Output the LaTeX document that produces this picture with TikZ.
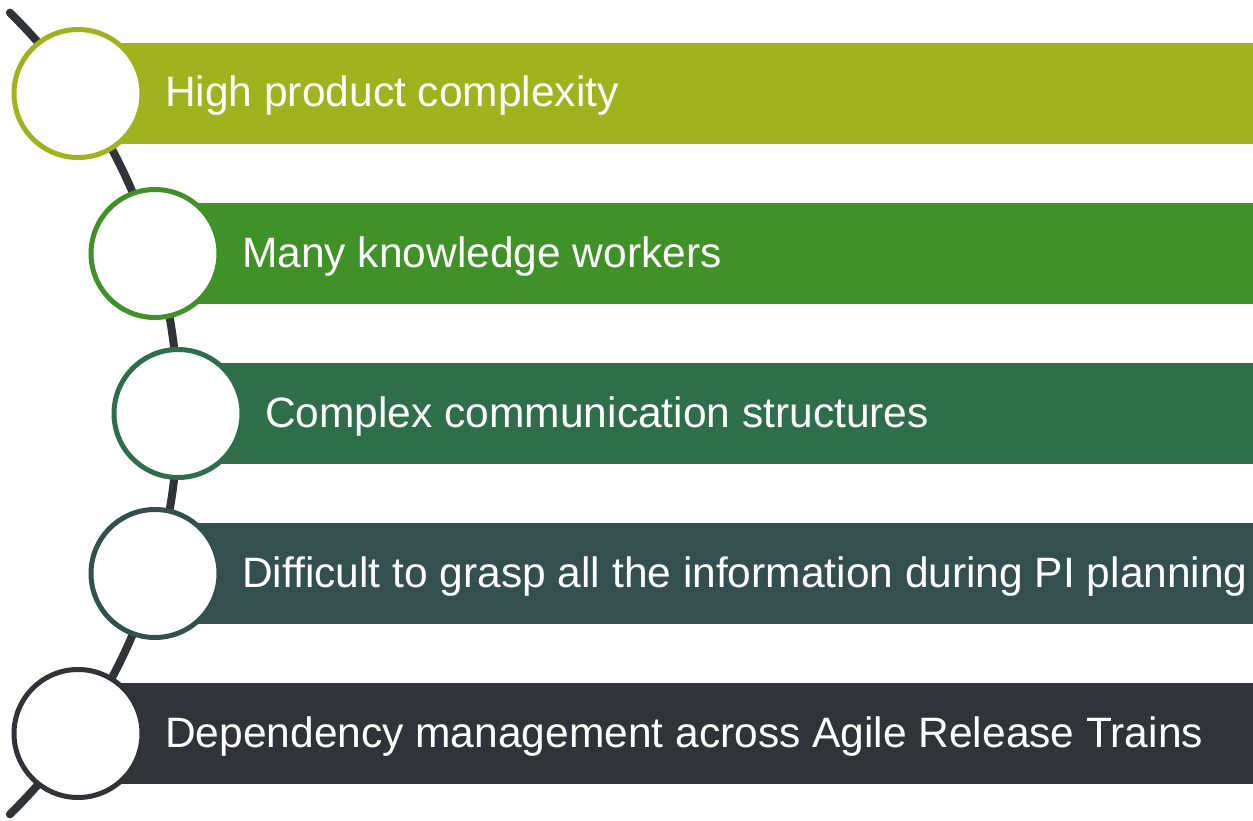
\documentclass[tikz,border=0pt]{standalone}
\usepackage{fontspec}
\setmainfont{Liberation Sans}
\usepackage{tikz}
\usetikzlibrary{calc}

\definecolor{lime}{HTML}{A0B31E}
\definecolor{leaf}{HTML}{3F9128}
\definecolor{forest}{HTML}{2E6E4A}
\definecolor{slate}{HTML}{33504F}
\definecolor{coal}{HTML}{323338}

\begin{document}
\begin{tikzpicture}[x=1pt, y=-1pt,
  every node/.style={inner sep=0pt},
  bead/.style={circle, draw=#1, fill=white, line width=5pt, minimum size=128pt},
  caption/.style={text=white, anchor=base west, font=\fontsize{42.5}{50}\selectfont}]

\useasboundingbox (0,0) rectangle (1253,821);

% spine behind the beads
\draw[coal, line width=8pt, line cap=round] (-384,413.5) ++(45.5:562pt)
  arc[start angle=45.5, end angle=-45.5, radius=562pt];

\coordinate (p1) at (78,93.5);
\coordinate (p2) at (155,253.5);
\coordinate (p3) at (178,413.5);
\coordinate (p4) at (155,573.5);
\coordinate (p5) at (78,733.5);

\fill[lime]   (p1) ++(0,-50.5) rectangle (1253,144);
\fill[leaf]   (p2) ++(0,-50.5) rectangle (1253,304);
\fill[forest] (p3) ++(0,-50.5) rectangle (1253,464);
\fill[slate]  (p4) ++(0,-50.5) rectangle (1253,624);
\fill[coal]   (p5) ++(0,-50.5) rectangle (1253,784);

\node(c1)[bead=lime]   at (p1){};
\node(c2)[bead=leaf]   at (p2){};
\node(c3)[bead=forest] at (p3){};
\node(c4)[bead=slate]  at (p4){};
\node(c5)[bead=coal]   at (p5){};

\node(t1)[caption] at ($(c1)+(87,13.5)$){High product complexity};
\node(t2)[caption] at ($(c2)+(87,13.5)$){Many knowledge workers};
\node(t3)[caption] at ($(c3)+(87,13.5)$){Complex communication structures};
\node(t4)[caption] at ($(c4)+(87,13.5)$){Difficult to grasp all the information during PI planning};
\node(t5)[caption] at ($(c5)+(87,13.5)$){Dependency management across Agile Release Trains};
\end{tikzpicture}
\end{document}
